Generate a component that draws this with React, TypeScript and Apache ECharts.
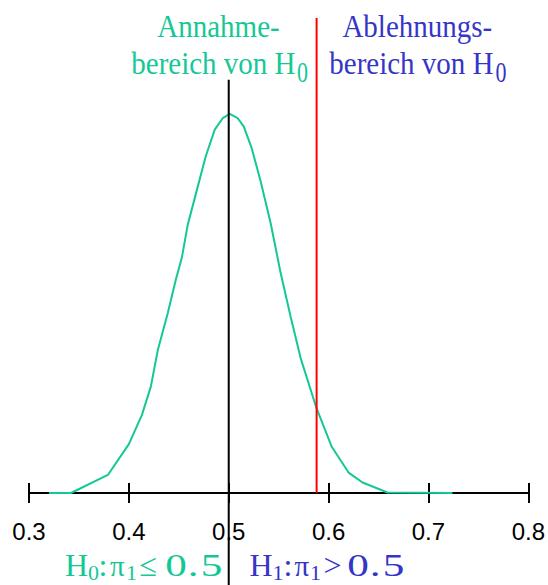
import React, { useEffect, useRef } from "react";
import * as echarts from "echarts";

// Sampling distribution of the proportion under H0
const curveX = [0.320, 0.342, 0.379, 0.400, 0.413, 0.422, 0.429, 0.439, 0.447, 0.453, 0.459, 0.469, 0.477, 0.486, 0.494, 0.501, 0.509, 0.515, 0.523, 0.532, 0.542, 0.552, 0.562, 0.572, 0.588, 0.603, 0.620, 0.634, 0.659, 0.724];
const curveY = [0, 0, 0.38, 1.03, 1.64, 2.24, 3.01, 3.79, 4.49, 4.95, 5.65, 6.45, 7.09, 7.65, 7.89, 7.98, 7.89, 7.72, 7.26, 6.56, 5.68, 4.63, 3.71, 2.84, 1.78, 0.98, 0.43, 0.22, 0.01, 0];

// Critical value (red line) and null value (black line)
const criticalX = 0.588;
const criticalY = [0, 10];
const nullX = 0.5;
const nullY = [-1.95, 8.7];

// Axis
const xMin = 0.3;
const xMax = 0.8;
const xStep = 0.1;

const GREEN = "#14C896";
const BLUE = "#3535C8";
const SERIF = "'Liberation Serif', 'Times New Roman', serif";

function txt(text: string, x: number, baseline: number, color: string, size: number, align: string, sx = 1, sy = 1) {
  return {
    type: "text",
    x,
    y: baseline - 0.3375 * size * sy,
    scaleX: sx,
    scaleY: sy,
    z: 100,
    style: { text, fill: color, font: `${size}px ${SERIF}`, align, verticalAlign: "middle" },
  };
}

// wide digits of "0.5" as in the original lettering
function num05(start: number, baseline: number, color: string) {
  return [
    txt("0", start - 1, baseline, color, 36, "left", 1.2, 0.9),
    txt(".", start + 24.5 - 3, baseline, color, 36, "left", 1.2, 0.9),
    txt("5", start + 35.5 - 1, baseline, color, 36, "left", 1.2, 0.9),
  ];
}

export default function App() {
  const ref = useRef<HTMLDivElement>(null);
  useEffect(() => {
    if (!ref.current) return;
    const chart = echarts.init(ref.current, null, { renderer: "svg" });
    const axisCommon = {
      type: "value",
      min: xMin,
      max: xMax,
      interval: xStep,
      position: "bottom",
      axisLine: { show: true, lineStyle: { color: "#000", width: 2 } },
      splitLine: { show: false },
    };
    chart.setOption({
      animation: false,
      grid: { left: 29, right: 19, top: 18, bottom: 92 },
      xAxis: [
        {
          ...axisCommon,
          axisTick: { show: true, length: 10, lineStyle: { color: "#000", width: 2 } },
          axisLabel: {
            show: true,
            showMinLabel: true,
            showMaxLabel: true,
            formatter: (v: number) => v.toFixed(1),
            fontSize: 24,
            fontFamily: "'Liberation Sans', Arial, sans-serif",
            color: "#000",
            margin: 26,
          },
        },
        {
          ...axisCommon,
          axisTick: { show: true, inside: true, length: 10, lineStyle: { color: "#000", width: 2 } },
          axisLabel: { show: false },
        },
      ],
      yAxis: { type: "value", min: 0, max: 10, show: false },
      series: [
        {
          type: "line",
          data: curveX.map((x, i) => [x, curveY[i]]),
          symbol: "none",
          lineStyle: { color: GREEN, width: 2 },
          z: 3,
        },
        {
          type: "line",
          data: criticalY.map((y) => [criticalX, y]),
          symbol: "none",
          lineStyle: { color: "#FF0000", width: 2 },
          z: 4,
        },
        {
          type: "line",
          data: nullY.map((y) => [nullX, y]),
          symbol: "none",
          clip: false,
          lineStyle: { color: "#000", width: 2 },
          z: 5,
        },
      ],
      graphic: [
        txt("Annahme-", 218.5, 37, GREEN, 29, "center", 1, 1.1),
        txt("bereich von H", 295.5, 74, GREEN, 29, "right", 1, 1.1),
        txt("0", 297, 82, GREEN, 22, "left", 1, 1.3),
        txt("Ablehnungs-", 417.3, 37, BLUE, 29, "center", 1, 1.1),
        txt("bereich von H", 493.5, 74, BLUE, 29, "right", 1, 1.1),
        txt("0", 495.5, 82, BLUE, 22, "left", 1, 1.3),
        // bottom hypotheses
        txt("H", 65, 576, GREEN, 32, "left"),
        txt("0", 88, 580, GREEN, 22, "left"),
        txt(":", 98.5, 576, GREEN, 32, "left"),
        txt("π", 110, 576, GREEN, 29, "left"),
        txt("1", 126, 580, GREEN, 22, "left"),
        txt("≤", 139.5, 576, GREEN, 32, "left"),
        ...num05(166.3, 576, GREEN),
        txt("H", 249.5, 576, BLUE, 32, "left"),
        txt("1", 272.5, 580, BLUE, 22, "left"),
        txt(":", 283.5, 576, BLUE, 32, "left"),
        txt("π", 294.5, 576, BLUE, 29, "left"),
        txt("1", 310, 580, BLUE, 22, "left"),
        txt(">", 323.5, 576, BLUE, 32, "left"),
        ...num05(348.3, 576, BLUE),
      ],
    });
    return () => chart.dispose();
  }, []);
  return <div ref={ref} style={{ position: "absolute", left: 0, top: 0, width: 548, height: 585 }} />;
}
